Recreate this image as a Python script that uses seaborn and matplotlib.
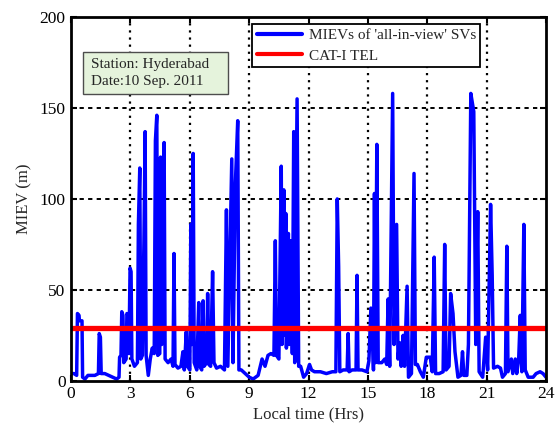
import matplotlib
matplotlib.use('Agg')
import matplotlib.pyplot as plt
import seaborn as sns
import pandas as pd
from matplotlib.patches import Rectangle

# ---- data ----
hours = [0.00, 0.15, 0.28, 0.32, 0.40, 0.42, 0.55, 0.58, 0.70, 0.85, 1.00, 1.20,
         1.38, 1.42, 1.48, 1.52, 1.70, 1.90, 2.10, 2.30, 2.42, 2.45, 2.52, 2.56,
         2.62, 2.66, 2.78, 2.82, 2.88, 2.92, 2.98, 3.03, 3.07, 3.20, 3.35, 3.40,
         3.47, 3.52, 3.60, 3.68, 3.74, 3.79, 3.90, 4.00, 4.10, 4.20, 4.26, 4.33,
         4.38, 4.48, 4.52, 4.58, 4.64, 4.70, 4.75, 4.90, 5.05, 5.15, 5.20, 5.25,
         5.40, 5.55, 5.65, 5.72, 5.82, 5.88, 6.00, 6.05, 6.10, 6.17, 6.22, 6.35,
         6.45, 6.50, 6.60, 6.67, 6.72, 6.85, 6.90, 6.96, 7.05, 7.15, 7.22, 7.35,
         7.55, 7.75, 7.85, 7.92, 8.05, 8.12, 8.18, 8.30, 8.42, 8.48, 8.60, 8.80,
         9.00, 9.20, 9.45, 9.65, 9.80, 9.95, 10.10, 10.25, 10.32, 10.38, 10.50,
         10.62, 10.66, 10.75, 10.78, 10.85, 10.88, 10.98, 11.02, 11.10, 11.18,
         11.25, 11.30, 11.42, 11.50,
         11.60, 11.75, 11.90, 12.05, 12.15, 12.30, 12.60, 12.90, 13.20, 13.38,
         13.45, 13.52, 13.58, 13.75, 13.95, 14.00, 14.05, 14.20, 14.40, 14.45,
         14.50, 14.70, 14.95, 15.05, 15.15, 15.20, 15.28, 15.33, 15.38, 15.45,
         15.52, 15.70, 15.85, 15.95, 16.02, 16.10, 16.25, 16.32, 16.45, 16.52,
         16.60, 16.68, 16.78, 16.85, 16.98, 17.05, 17.20, 17.33, 17.40, 17.50,
         17.65, 17.80, 17.95, 18.15, 18.25, 18.35, 18.42, 18.60, 18.80, 18.88,
         18.95, 19.10, 19.18, 19.30, 19.40, 19.55, 19.70, 19.78, 19.85, 20.00,
         20.08, 20.20, 20.35, 20.45, 20.55, 20.62, 20.80, 20.95, 21.05, 21.20,
         21.28, 21.35, 21.55, 21.70, 21.80, 21.95, 22.02, 22.08, 22.25, 22.32,
         22.45, 22.52, 22.62, 22.70, 22.78, 22.88, 22.95, 23.10, 23.35, 23.50,
         23.70, 23.85, 24.00]
miev = [4, 4, 3, 37, 36, 33, 33, 2, 1, 3, 3, 3,
        4, 26, 24, 4, 4, 3, 2, 1, 2, 13, 14, 38,
        36, 10, 12, 37, 36, 15, 62, 60, 12, 8, 10, 86,
        117, 12, 14, 77, 137, 14, 3, 12, 18, 15, 132, 146,
        14, 15, 123, 20, 110, 131, 12, 10, 12, 8, 70, 9,
        7, 8, 16, 6, 27, 8, 6, 86, 20, 125, 10, 6,
        43, 8, 6, 44, 8, 10, 48, 9, 8, 60, 10, 7,
        8, 6, 94, 8, 81, 122, 10, 108, 143, 6, 6, 4,
        2, 1, 3, 12, 8, 14, 15, 14, 77, 14, 12,
        118, 20, 105, 25, 92, 18, 81, 20, 77, 15,
        137, 10, 155, 8,
        8, 2, 4, 9, 6, 5, 5, 4, 5, 5,
        100, 63, 5, 6, 6, 26, 5, 6, 6, 58,
        6, 6, 5, 11, 40, 39, 6, 103, 10, 130,
        10, 10, 12, 9, 45, 8, 158, 20, 86, 12,
        21, 8, 25, 8, 52, 2, 4, 114, 9, 9,
        5, 2, 13, 13, 5, 68, 4, 4, 5, 75,
        6, 8, 48, 37, 16, 2, 3, 16, 3, 3,
        20, 158, 148, 20, 93, 5, 2, 24, 6, 97,
        58, 7, 8, 7, 2, 4, 74, 5, 12, 4,
        12, 4, 12, 36, 5, 86, 6, 2, 2, 4,
        5, 4, 2]
tel_value = 29
tel_hours = [0, 24]
x_ticks = [0, 3, 6, 9, 12, 15, 18, 21, 24]
y_ticks = [0, 50, 100, 150, 200]
miev_label = "MIEVs of 'all-in-view' SVs"
tel_label = "CAT-I TEL"
info_text = "Station: Hyderabad\nDate:10 Sep. 2011"

# ---- style ----
sns.set_style('ticks')
plt.rcParams['font.family'] = ['Liberation Serif', 'DejaVu Serif']

fig = plt.figure(figsize=(5.6, 4.26), dpi=100)
ax = fig.add_axes([0.127, 0.106, 0.848, 0.854])

# grid (drawn beneath data)
for xv in x_ticks[1:-1]:
    ax.axvline(xv, color='k', ls=(0, (1, 2.2)), lw=1.6, zorder=0.5)
for yv in y_ticks[1:-1]:
    ax.axhline(yv, color='k', ls=(0, (2.2, 2.2)), lw=1.4, zorder=0.5)

df = pd.DataFrame({'time': hours, 'miev': miev})
tel_df = pd.DataFrame({'time': tel_hours, 'tel': [tel_value] * len(tel_hours)})

sns.lineplot(data=df, x='time', y='miev', sort=False, estimator=None,
             color='#0000ff', lw=2.5, ax=ax, label=miev_label, zorder=2)
sns.lineplot(data=tel_df, x='time', y='tel', sort=False, estimator=None,
             color='#ff0000', lw=3.8, ax=ax, label=tel_label, zorder=3)

ax.set_xlim(0, 24)
ax.set_ylim(0, 200)
ax.set_xticks(x_ticks)
ax.set_yticks(y_ticks)
ax.set_xlabel('Local time (Hrs)', fontsize=12, labelpad=3)
ax.set_ylabel('MIEV (m)', fontsize=12, labelpad=5)
ax.tick_params(direction='in', top=True, right=True, length=4, width=1.5,
               labelsize=12.5, pad=4, colors='k')
for sp in ax.spines.values():
    sp.set_linewidth(2.0)
    sp.set_color('k')
    sp.set_zorder(5)

leg = ax.legend(loc='upper left', bbox_to_anchor=(0.381, 0.981), frameon=True,
                fancybox=False, edgecolor='k', framealpha=1, fontsize=11,
                borderpad=0.3, handlelength=3.0, labelspacing=0.45,
                handletextpad=0.4, borderaxespad=0.0)
leg.get_frame().set_linewidth(1.3)
for ln in leg.get_lines():
    ln.set_linewidth(3.0)

box = Rectangle((0.0253, 0.7885), 0.3052, 0.1153, transform=ax.transAxes,
                fc='#e5f3dc', ec='#4d4d4d', lw=1.0, zorder=6)
ax.add_patch(box)
ax.text(0.042, 0.846, info_text, transform=ax.transAxes, va='center', ha='left',
        fontsize=11, linespacing=1.35, zorder=7)

fig.savefig('out.png', dpi=100)
